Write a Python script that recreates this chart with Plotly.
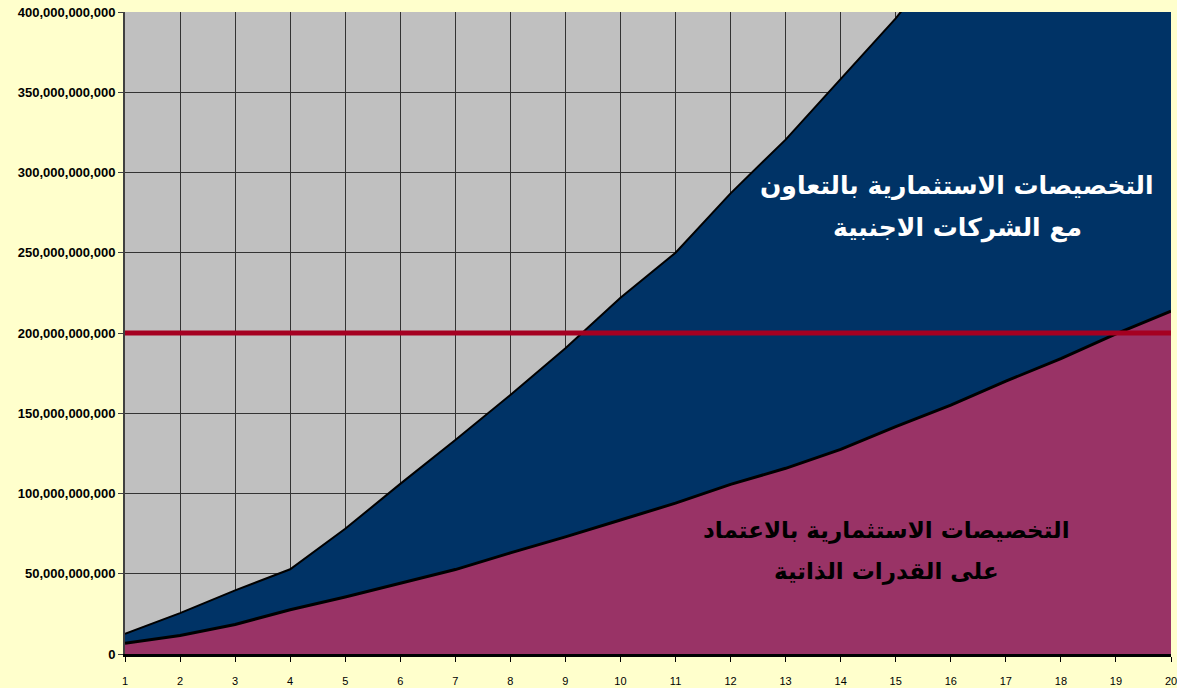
import plotly.graph_objects as go

# Data (in billions)
years = list(range(1, 21))
self_capacity_bn = [6.7, 11.5, 18.4, 27.6, 35.5, 44.2, 52.6, 63.0, 73.0, 83.5,
                    94.0, 105.7, 115.7, 127.5, 141.6, 155.0, 170.0, 184.0, 199.4, 213.7]
foreign_coop_bn = [5.9, 14.0, 21.2, 25.2, 42.5, 61.8, 80.7, 98.4, 117.5, 138.5,
                   156.0, 181.3, 204.8, 230.9, 254.4, 285.0, 315.0, 346.0, 378.6, 414.3]
threshold_bn = 200
y_ticks = [0, 50e9, 100e9, 150e9, 200e9, 250e9, 300e9, 350e9, 400e9]
y_tick_labels = ["0", "50,000,000,000", "100,000,000,000", "150,000,000,000",
                 "200,000,000,000", "250,000,000,000", "300,000,000,000",
                 "350,000,000,000", "400,000,000,000"]

self_capacity = [v * 1e9 for v in self_capacity_bn]
foreign_coop = [v * 1e9 for v in foreign_coop_bn]

label_self = "التخصيصات الاستثمارية بالاعتماد<br>على القدرات الذاتية"
label_coop = "التخصيصات الاستثمارية بالتعاون<br>مع الشركات الاجنبية"

fig = go.Figure()
fig.add_trace(go.Scatter(
    x=years, y=self_capacity, stackgroup="one", mode="lines",
    line=dict(color="black", width=3), fillcolor="#993366", name="self"))
fig.add_trace(go.Scatter(
    x=years, y=foreign_coop, stackgroup="one", mode="lines",
    line=dict(color="black", width=2), fillcolor="#003366", name="coop"))

fig.add_hline(y=threshold_bn * 1e9, line=dict(color="#A50021", width=5))

W, H = 1177, 688
ml, mr, mt, mb = 125, 0, 12, 34
pw, ph = W - ml - mr, H - mt - mb


def px(xp):
    return (xp - ml) / pw


def py(yp):
    return (H - mb - yp) / ph


arabic_font = "DejaVu Sans"
lines_coop = label_coop.split("<br>")
lines_self = label_self.split("<br>")
for txt, yy in zip(lines_coop, [186, 228]):
    fig.add_annotation(text=txt, x=px(962), y=py(yy), xref="paper", yref="paper",
                       showarrow=False, xanchor="center", yanchor="middle",
                       font=dict(family=arabic_font, size=25, color="white", weight="bold"))
for txt, yy in zip(lines_self, [530, 571]):
    fig.add_annotation(text=txt, x=px(891), y=py(yy), xref="paper", yref="paper",
                       showarrow=False, xanchor="center", yanchor="middle",
                       font=dict(family=arabic_font, size=23, color="black", weight="bold"))

fig.update_layout(
    width=W, height=H,
    margin=dict(l=ml, r=mr, t=mt, b=mb),
    paper_bgcolor="#FFFFCC",
    plot_bgcolor="#C0C0C0",
    showlegend=False,
    font=dict(family="Liberation Sans", color="black"),
)
fig.update_xaxes(
    range=[1, 20], tickmode="array", tickvals=years,
    ticks="outside", ticklen=5, tickcolor="black", tickwidth=1,
    ticklabelstandoff=10, ticklabeloverflow="allow",
    tickfont=dict(size=11, family="Liberation Sans Narrow, Liberation Sans"),
    showgrid=True, gridcolor="#333333", gridwidth=1,
    showline=True, linecolor="black", linewidth=3,
    zeroline=False,
    mirror=False,
)
fig.update_yaxes(
    range=[0, 400e9], tickmode="array", tickvals=y_ticks, ticktext=y_tick_labels,
    ticks="outside", ticklen=5, tickcolor="#404040", tickwidth=1,
    ticklabeloverflow="allow",
    tickfont=dict(size=13, family="Liberation Sans", weight="bold"),
    showgrid=True, gridcolor="#333333", gridwidth=1,
    showline=True, linecolor="#404040", linewidth=2,
    zeroline=False,
)

fig.write_html("out.html", config={"displayModeBar": False},
               post_script="document.body.style.margin='0px';")
